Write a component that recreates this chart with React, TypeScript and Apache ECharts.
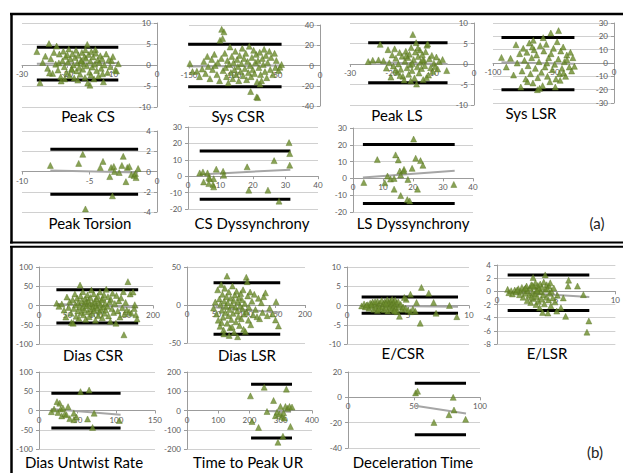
import React, { useEffect, useRef } from "react";
import * as echarts from "echarts";

// ---------- DATA ----------
const titles = [
  "Peak CS", "Sys CSR", "Peak LS", "Sys LSR",
  "Peak Torsion", "CS Dyssynchrony", "LS Dyssynchrony",
  "Dias CSR", "Dias LSR", "E/CSR", "E/LSR",
  "Dias Untwist Rate", "Time to Peak UR", "Deceleration Time",
];

// axis ranges: [min, max, interval]
const xAxes = [
  [-30, 0, 10], [-150, 0, 50], [-30, 0, 10], [-100, 0, 50],
  [-10, 0, 5], [0, 40, 10], [0, 40, 10],
  [0, 200, 50], [0, 200, 50], [0, 10, 5], [0, 10, 5],
  [0, 150, 50], [0, 400, 100], [0, 100, 50],
];
const yAxes = [
  [-10, 10, 5], [-40, 40, 20], [-10, 10, 5], [-30, 30, 10],
  [-4, 4, 2], [-20, 30, 10], [-20, 30, 10],
  [-100, 100, 50], [-50, 50, 50], [-10, 10, 5], [-8, 4, 2],
  [-100, 100, 50], [-200, 200, 100], [-40, 20, 20],
];

// limits of agreement [upper, lower]
const limits = [
  [4.2, -3.6], [21, -21], [5.2, -4.6], [19.2, -20],
  [2.2, -2.25], [15.4, -14], [20.2, -15],
  [40.7, -45.6], [29.3, -38.6], [2.2, -2.0], [2.5, -2.9],
  [45, -45.5], [136, -143], [11.1, -29.6],
];
// x extent of the limit lines
const limitSpans = [
  [-26.7, -8.6], [-151, -44], [-25.6, -6.4], [-93, -32.7],
  [-7.9, -1.4], [3.6, 31.5], [3.3, 33.9],
  [30.5, 174], [45, 158], [1.2, 9.1], [0.9, 7.8],
  [16, 105.5], [205, 336], [50.6, 89.4],
];
// regression trend lines [[x1, y1], [x2, y2]]
const trends = [
  [[-26.7, 0.3], [-8.6, 0.5]], [[-151, -1], [-44, 0]], [[-25.6, 0.4], [-6.4, 0.0]], [[-93, 0.5], [-32.7, -0.5]],
  [[-7.9, 0.1], [-1.4, -0.1]], [[3.6, 1.0], [31.5, 4.0]], [[3.3, 0.5], [33.9, 4.5]],
  [[30.5, 4], [174, -5]], [[45, -3], [158, -10]], [[1.2, -0.05], [9.1, -0.3]], [[0.9, -0.1], [7.8, -0.85]],
  [[16, 4], [105.5, -11]], [[256, -2], [333, -6]], [[51, -6.6], [89.4, -12.7]],
];

const peakCsPoints = [
  [-26.7, 3.2], [-26, -4.2], [-25.4, 0.6], [-24.8, 2.1], [-24, 5.1], [-24.3, -0.8], [-23.6, 1.5], [-23.2, -2.0],
  [-22.9, 3.0], [-22.3, 4.5], [-22.5, 0.2], [-22, -1.2], [-21.7, 2.6], [-21.4, -2.8], [-21.3, -3.8], [-21, 1.0],
  [-20.8, 3.3], [-20.6, -0.4], [-20.3, 2.0], [-20.1, -1.8], [-19.8, 0.7], [-19.6, 3.8], [-19.4, -2.5], [-19.2, 1.4],
  [-19, -0.9], [-18.8, 2.7], [-18.6, 0.0], [-18.4, -3.1], [-18.2, 1.8], [-18, 3.5], [-17.9, -1.4], [-17.7, 0.5],
  [-17.5, 2.3], [-17.3, -0.6], [-17.1, -2.2], [-16.9, 1.1], [-16.7, 3.0], [-16.5, -1.0], [-16.3, 0.3], [-16.1, 2.0],
  [-16, -3.0], [-15.8, 1.6], [-15.6, -0.2], [-15.5, 4.9], [-15.4, -4.3], [-15.2, 2.5], [-15, -1.7], [-14.9, -4.8],
  [-14.8, 0.9], [-14.6, 3.2], [-14.4, -0.5], [-14.2, 1.9], [-14, -3.3], [-13.8, 0.2], [-13.6, 2.8], [-13.4, -1.3],
  [-13.2, 1.2], [-13, -2.6], [-12.8, 0.6], [-12.6, 2.2], [-12.4, -0.8], [-12.2, 1.5], [-11.9, -4.0], [-11.7, 0.0],
  [-11.3, 2.6], [-11, -1.8], [-10.7, 1.3], [-10.4, -0.4], [-10.1, 1.0], [-9.8, 2.0], [-9.3, -1.2], [-9, -1.4],
  [-8.6, 0.3], [-23.9, -1.9], [-20.5, -3.3], [-17.6, -3.6], [-13.7, 3.7], [-12.1, -2.1], [-19.9, 2.4], [-18.9, -1.1],
  [-16.8, 0.9], [-14.7, -2.4], [-21.8, 0.5], [-15.9, 3.6],
];
const sysCsrPoints = [
  [-149, 2], [-146, -6], [-141, -5.7], [-138, -11], [-135, -3.5], [-133, 4], [-131, -8], [-129, 9], [-128, -1],
  [-126, -13], [-124, 6], [-123, -4], [-121, 11], [-120, 0], [-118, -9], [-117, 3], [-115, -15], [-114.5, 25],
  [-113, 7], [-112.6, 35.7], [-111.5, 26.7], [-111, -5], [-110, 33.3], [-109, 12], [-108, -2], [-107, -11],
  [-106, 5], [-105, -17], [-104, 1], [-103, 18.3], [-102, -7], [-101, 9], [-100, -13], [-99, 3], [-98, -4],
  [-97, 14], [-96, -9], [-95, 6], [-94, -1], [-93, -15], [-92, 10], [-91, -6], [-90, 2], [-89, 17], [-88, -10],
  [-87, 7], [-86, -3], [-85, 12], [-84, -14], [-83, 4], [-82, -7], [-81, 19], [-80, 0], [-79.4, -25.7], [-79, -11],
  [-78, 8], [-77, -4], [-76, 15], [-75, -8], [-74, 3], [-73, 11], [-72.5, -31], [-72, -16], [-71.3, -31.7],
  [-71, 5], [-70, -2], [-69, 13], [-68.7, -18.3], [-68, -9], [-67, -15], [-66, 7], [-65, 1], [-64, 16], [-63, -6],
  [-62, 10], [-61, -12], [-60, 3], [-58, 14], [-57, -4], [-56, 8], [-54, -9], [-52, 12], [-51, -2], [-50, 5],
  [-47.5, -5], [-45.8, -1.7], [-44, 1],
];
const peakLsPoints = [
  [-25.6, 0.6], [-24.5, 0.9], [-23.1, 1.0], [-22.7, 4.8], [-21.9, 0.8], [-21.2, -1.0], [-20.8, 3.5], [-20.5, 0.3],
  [-20.1, -3.2], [-19.8, 2.2], [-19.5, -0.5], [-19.2, 3.7], [-18.9, 1.4], [-18.6, -2.0], [-18.3, 0.0], [-18.0, 2.8],
  [-17.7, -1.3], [-17.4, 1.9], [-17.2, -3.0], [-16.9, -3.9], [-16.7, 0.7], [-16.5, 3.1], [-16.2, -0.9], [-16.0, 1.6],
  [-15.8, -2.5], [-15.6, 2.4], [-15.4, -0.2], [-15.2, 4.0], [-15.0, -1.6], [-14.8, 7.2], [-14.6, 1.1], [-14.4, -3.4],
  [-14.2, 2.9], [-14.0, 5.2], [-13.9, -4.9], [-13.7, -0.7], [-13.5, 1.8], [-13.3, -2.2], [-13.1, 3.4], [-12.9, 0.4],
  [-12.7, -1.1], [-12.5, 2.3], [-12.3, -3.8], [-12.1, 0.9], [-11.9, -0.4], [-11.7, 3.0], [-11.4, 4.6], [-11.2, 4.9],
  [-11.0, -2.7], [-10.8, 1.3], [-10.5, -0.9], [-10.2, 2.1], [-10.0, -1.8], [-9.7, 0.2], [-9.4, -0.6], [-9.1, 1.7],
  [-8.8, -1.2], [-8.4, 0.6], [-7.6, 1.1], [-6.6, -1.6], [-17.9, -2.8], [-15.3, -4.1], [-13.6, 3.9], [-12.4, 1.0],
  [-19.0, -1.5], [-16.4, 2.0], [-14.9, 0.1], [-11.5, -3.3],
];
const sysLsrPoints = [
  [-93, 4.2], [-89, -3], [-85.5, 3.5], [-83, -9], [-81, 13.7], [-80, 0], [-78, 7], [-77, -18], [-76, -6], [-75, 11],
  [-74, 2], [-73, -12], [-72, 8], [-71, -2], [-70, 15], [-69, -8], [-68, 4], [-67, -15], [-66.7, 17], [-66, 10],
  [-65, -4], [-64, 6], [-63.3, -20], [-63, -11], [-62, 1], [-61, 13], [-60, -7], [-59, -17], [-58, 9], [-57, -3],
  [-56, 14], [-55, -10], [-54, 4], [-53, -14], [-52.2, 22.5], [-52, 7], [-51, -5], [-50, 11], [-49, -1], [-48, -12],
  [-47, 16], [-46, 3], [-45.8, 24.3], [-45, -8], [-44, 9], [-43, -4], [-42, 12], [-41.7, -7.5], [-41, 1], [-40, -10],
  [-39, 6], [-38.9, 2.5], [-37, -3], [-36, 8], [-35, -6], [-34, 4], [-32.7, -2.5], [-61.5, -19], [-58.5, 19],
  [-48.5, -18], [-71.5, -14], [-55.5, 0], [-44.5, -13], [-67.5, 12],
];
const peakTorsionPoints = [
  [-7.9, 0.6], [-5.8, 0.8], [-5.5, 1.7], [-5.3, -3.7], [-4.2, 0.4], [-4.0, 1.0], [-3.5, -0.5], [-3.4, 0.4],
  [-3.2, 0.5], [-3.15, 0.0], [-3.3, -2.4], [-2.8, -0.1], [-2.6, 0.6], [-2.5, 1.5], [-2.3, -1.0], [-2.2, 0.4],
  [-2.05, 0.5], [-1.9, -0.3], [-1.7, -0.4], [-1.6, -0.2], [-1.55, -0.6], [-1.4, 0.3],
];
const csDysPoints = [
  [3.6, 2.0], [4.6, 2.6], [6.0, 2.0], [4.8, -3.5], [6.4, -0.8], [6.7, -1.5], [6.4, -4.5], [7.7, -5.1], [7.9, -1.5],
  [7.9, -6.5], [8.7, 4.3], [10.8, 3.0], [11.0, 0.6], [18.2, 5.7], [18.7, -8.5], [24.6, -8.5], [26.5, 9.5],
  [28.0, -15.2], [31.1, 20.5], [31.3, 13.8], [31.3, 6.7],
];
const lsDysPoints = [
  [3.6, -2.4], [8.1, 11.2], [10.6, -2.6], [11.5, 1.4], [12.5, -0.4], [13.7, 0.0], [13.7, -6.4], [14.2, 14.0],
  [15.1, 11.0], [15.6, 4.4], [15.9, 2.0], [15.9, -10.2], [16.9, 4.4], [17.0, 5.4], [18.3, -0.6], [18.1, -12.6],
  [18.9, -13.4], [19.7, 6.0], [20.2, 23.4], [20.9, 12.0], [21.5, -6.4], [22.5, 10.6], [23.3, 7.8], [33.6, -3.6],
];
const diasCsrPoints = [
  [31, 6], [35, -2], [40, 4], [44, -12], [47, -30], [49, 22], [52, -5], [54, 10], [56, -20], [57, -44], [59, 15],
  [60, -46], [61, -8], [63, 30], [64, 2], [65, -28], [67, 19], [68, -14], [69, 7], [70, -33], [71, -3], [72, 53],
  [73, 25], [74, -18], [75, 12], [76, -6], [77, 36], [78, -24], [79, 4], [80, -11], [81, 18], [82, -36], [83, 9],
  [84, -1], [85, 27], [86, -16], [87, 13], [88, -29], [89, 3], [90, 21], [91, -9], [92, 40], [93, -21], [94, 6],
  [95, -4], [96, 30], [97, -13], [98, 11], [99, -38], [100, 0], [101, 17], [102, -7], [103, 24], [104, -26],
  [105, 8], [106, -15], [107, 35], [108, 2], [109, -10], [110, 14], [111, -32], [112, 19], [113, -4], [114, 28],
  [115, -20], [116, 6], [117, -12], [118, 42], [120, -2], [121, 23], [122, -27], [124, 10], [125, -41], [126, 16],
  [128, -8], [129, 32], [131, -18], [133, 5], [135, -46], [136, 26], [138, -14], [140, 12], [142, -30], [144, 20],
  [146, -6], [148, 36], [149, -76], [150, -22], [152, 8], [154, -12], [156, 62], [158, -16], [160, 30], [162, -20],
  [165, 35], [167, -8], [170, -24], [172, -35], [168, 2],
];
const diasLsrPoints = [
  [45, -4], [48, 4], [50, -12], [52, 20], [53, -20], [55, 8], [56, -28], [57, 1], [58, 27], [59, -7], [60, 14],
  [61, -16], [62, -33], [63, 5], [64, 22], [65, -10], [66, -2], [67, 11], [67.8, 38], [68, -24], [69, 3], [70, -14],
  [71, 17], [72, -6], [73, -30], [74, 9], [75, -19], [76, 0], [77, 25], [78, -11], [79, 6], [80, -36], [81, 13],
  [82, -3], [83, -22], [84, 18], [85, -8], [85.8, -41.7], [86, 4], [87, -15], [88, 10], [89, -27], [90, -1],
  [91, 15], [92, -18], [93, 7], [94, -5], [95, 20], [96, -32], [97, -12], [98, 2], [99, -35], [100.5, 36.4],
  [101, -9], [102, 30.7], [103, 12], [104, -20], [105, -3], [107, 17], [108, -26], [110, 5], [112, -13], [114, 14],
  [116, -6], [118.6, -15.4], [121, 8.8], [123, -18], [126, 3], [128, -10], [130, 11], [133, 16], [136, -14],
  [140, -4], [145, -12], [150, -19.7], [151, 4.3], [155, -27.6], [62.5, -38], [71.5, -40], [58.5, -23], [76.5, -29],
];
const eCsrPoints = [
  [1.2, -0.1], [1.4, 0.4], [1.5, -0.4], [1.7, 0.2], [1.8, -0.7], [1.9, 0.6], [2.0, -0.2], [2.1, 0.9], [2.2, -1.0],
  [2.3, 0.3], [2.4, -0.5], [2.5, 1.1], [2.5, -1.3], [2.6, 0.0], [2.7, 0.7], [2.8, -0.8], [2.85, 1.3], [2.9, -0.3],
  [3.0, 0.5], [3.05, -1.1], [3.1, 1.0], [3.2, -0.6], [3.25, 0.2], [3.3, 1.5], [3.35, -1.4], [3.4, 0.8], [3.5, -0.2],
  [3.55, 1.2], [3.6, -0.9], [3.65, 0.4], [3.7, 1.6], [3.75, -0.5], [3.8, 0.9], [3.85, -1.2], [3.9, 0.1], [3.95, 1.4],
  [4.0, -0.7], [4.05, 0.6], [4.1, -1.6], [4.2, 1.0], [4.25, -0.3], [4.3, -2.8], [4.4, 0.3], [4.5, -1.0], [4.6, -0.4],
  [4.85, 1.6], [5.2, 2.9], [5.2, -1.6], [4.8, -0.7], [5.0, -1.2], [5.7, 0.8], [6.0, -4.6], [6.1, 4.7], [6.7, 3.2],
  [7.1, 0.8], [7.3, -2.0], [8.4, 0.0], [9.0, -2.9], [5.4, -0.9], [5.6, -1.5], [4.7, 2.1], [2.0, 0.3], [2.6, -0.9],
  [3.2, 0.6], [1.6, 0.1], [3.9, -1.4], [2.3, 1.0],
];
const eLsrPoints = [
  [0.9, 0.3], [1.0, -0.2], [1.2, 0.1], [1.3, -0.4], [1.5, 0.2], [1.6, -0.1], [1.8, 0.4], [1.9, -0.5], [2.0, 0.0],
  [2.1, 0.6], [2.2, -0.9], [2.3, 0.3], [2.4, -0.3], [2.5, 0.8], [2.55, -1.4], [2.6, 0.1], [2.7, -0.6], [2.8, 0.5],
  [2.85, -1.7], [2.9, 1.0], [3.0, -0.2], [3.05, 2.1], [3.1, -1.1], [3.15, 0.7], [3.2, -0.4], [3.25, 1.3], [3.3, -2.0],
  [3.35, 0.2], [3.4, -0.8], [3.45, 0.9], [3.5, -1.5], [3.55, 0.4], [3.6, -2.5], [3.65, 1.1], [3.7, -0.1],
  [3.75, -1.2], [3.8, 0.6], [3.85, -3.2], [3.9, -0.5], [3.95, 1.4], [4.0, -1.9], [4.07, 2.5], [4.1, 0.3],
  [4.15, -0.9], [4.2, 1.0], [4.3, -3.3], [4.35, -1.3], [4.4, 0.8], [4.45, -0.3], [4.5, 1.3], [4.55, -2.2], [4.6, 0.0],
  [4.7, -1.0], [4.8, 0.5], [4.9, -1.6], [5.05, -3.0], [5.1, -0.6], [5.4, -2.5], [5.6, -1.0], [5.8, -3.8], [6.0, 0.8],
  [6.05, 1.7], [6.8, 0.8], [7.3, -0.5], [7.6, -6.2], [7.76, -4.5], [3.0, 0.9], [2.4, 0.5], [1.7, 0.2], [4.25, 0.4],
  [3.4, 0.1], [2.9, -0.9],
];
const diasUntwistPoints = [
  [16, -3], [19.5, 3.6], [23.3, 23], [24.6, -5], [26.8, 19], [28.1, 3.6], [29.4, -14], [31.1, 6], [33.3, -9],
  [35.5, -11], [37.6, 10], [39.8, -21], [45, -7], [45, -24], [48.5, -17], [53.7, 49], [62.8, -22], [64.8, 53],
  [69.3, -44], [71.3, -7], [103.8, -26],
];
const timeToPeakUrPoints = [
  [203, 76], [208, -57], [229, -88], [247, 121], [256, -5], [277, 52], [283, -27], [288, -9], [291, -165],
  [299, 21], [304, -31], [307, -134], [311, -39], [315, 21], [318, 111], [322, 12], [328, 21], [331, -83],
  [336, 18], [296, -18], [309, -12],
];
const decelTimePoints = [
  [51.2, 3.5], [52.7, 4.8], [65.1, -19.8], [76.5, -13.7], [79.7, 0], [80.3, -10], [89.1, -17.4],
];

const pointSets = [
  peakCsPoints, sysCsrPoints, peakLsPoints, sysLsrPoints,
  peakTorsionPoints, csDysPoints, lsDysPoints,
  diasCsrPoints, diasLsrPoints, eCsrPoints, eLsrPoints,
  diasUntwistPoints, timeToPeakUrPoints, decelTimePoints,
];

// ---------- LAYOUT (pixel boxes of each plot area and title centres) ----------
const boxes = [
  { l: 22, t: 23, r: 157, b: 107, tx: 88, ty: 116 },
  { l: 189, t: 25, r: 320, b: 106, tx: 238, ty: 116 },
  { l: 350, t: 23, r: 474, b: 105, tx: 397, ty: 115 },
  { l: 493, t: 23, r: 614, b: 103, tx: 531, ty: 113 },
  { l: 22, t: 131, r: 157, b: 212, tx: 90, ty: 223 },
  { l: 188, t: 127, r: 318, b: 209, tx: 252, ty: 223 },
  { l: 353, t: 128, r: 473, b: 212, tx: 413, ty: 223 },
  { l: 39, t: 267, r: 153, b: 344, tx: 93, ty: 355 },
  { l: 187, t: 267, r: 305, b: 343, tx: 247, ty: 355 },
  { l: 347, t: 267, r: 469, b: 344, tx: 403, ty: 353 },
  { l: 497, t: 265, r: 624, b: 344, tx: 547, ty: 353 },
  { l: 39, t: 372, r: 155, b: 449, tx: 84, ty: 461.5 },
  { l: 187, t: 372, r: 312, b: 449, tx: 248, ty: 461.5 },
  { l: 348, t: 372, r: 480, b: 448, tx: 413, ty: 461.5 },
];

const FONT = "Lato, 'Open Sans', sans-serif";
const GREEN = "#6c8c2c";
const GREEN_EDGE = "#55711f";
const AXIS = "#9c9c9c";
const GRID = "#d0d0d0";
const LABEL = "#595959";

function buildOption() {
  const grid: any[] = [];
  const xAxis: any[] = [];
  const yAxis: any[] = [];
  const series: any[] = [];
  const graphic: any[] = [];

  boxes.forEach((b, i) => {
    const w = b.r - b.l;
    const h = b.b - b.t;
    grid.push({ left: b.l, top: b.t, width: w, height: h, containLabel: false });
    const [xmin, xmax, xint] = xAxes[i];
    const [ymin, ymax, yint] = yAxes[i];
    // axes cross at zero (Excel style): place them with offsets
    const zeroY = (ymax / (ymax - ymin)) * h; // from grid top
    const zeroX = ((0 - xmin) / (xmax - xmin)) * w; // from grid left
    xAxis.push({
      gridIndex: i, type: "value", min: xmin, max: xmax, interval: xint, position: "bottom",
      offset: -(h - zeroY),
      axisLine: { show: true, onZero: false, lineStyle: { color: AXIS, width: 1 } },
      axisTick: { show: true, length: 3, lineStyle: { color: AXIS } },
      axisLabel: { fontSize: 8, color: LABEL, fontFamily: FONT, margin: 5, showMinLabel: true, showMaxLabel: true },
      splitLine: { show: false },
    });
    yAxis.push({
      gridIndex: i, type: "value", min: ymin, max: ymax, interval: yint, position: "left",
      offset: -zeroX,
      axisLine: { show: true, onZero: false, lineStyle: { color: AXIS, width: 1 } },
      axisTick: { show: true, length: 3, lineStyle: { color: AXIS } },
      axisLabel: { fontSize: 8, color: LABEL, fontFamily: FONT, margin: 6, showMinLabel: true, showMaxLabel: true },
      splitLine: { show: true, lineStyle: { color: GRID, width: 1 } },
    });
    const [up, lo] = limits[i];
    const [s0, s1] = limitSpans[i];
    const lineBase = {
      type: "line", xAxisIndex: i, yAxisIndex: i, symbol: "none", silent: true, z: 2,
    };
    series.push({ ...lineBase, data: [[s0, up], [s1, up]], lineStyle: { color: "#000", width: 3 } });
    series.push({ ...lineBase, data: [[s0, lo], [s1, lo]], lineStyle: { color: "#000", width: 3 } });
    series.push({ ...lineBase, data: trends[i], lineStyle: { color: "#a6a6a6", width: 2 } });
    series.push({
      type: "scatter", xAxisIndex: i, yAxisIndex: i, data: pointSets[i],
      symbol: "triangle", symbolSize: [6, 6],
      itemStyle: { color: GREEN, borderColor: GREEN_EDGE, borderWidth: 0.5 }, z: 3, silent: true,
    });
    graphic.push({
      type: "text", x: b.tx, y: b.ty, silent: true,
      style: { text: titles[i], fontSize: 15, fontFamily: FONT, fill: "#000", textAlign: "center", textVerticalAlign: "middle" },
    });
  });

  const frame = { stroke: "#000", lineWidth: 2.5 };
  graphic.push(
    { type: "line", shape: { x1: 10, y1: 14, x2: 623, y2: 14 }, style: frame, silent: true },
    { type: "line", shape: { x1: 11.5, y1: 13, x2: 11.5, y2: 243.5 }, style: frame, silent: true },
    { type: "line", shape: { x1: 10, y1: 242.5, x2: 623, y2: 242.5 }, style: { stroke: "#000", lineWidth: 2 }, silent: true },
    { type: "line", shape: { x1: 10, y1: 246.8, x2: 623, y2: 246.8 }, style: { stroke: "#000", lineWidth: 2 }, silent: true },
    { type: "line", shape: { x1: 11.5, y1: 246, x2: 11.5, y2: 473 }, style: frame, silent: true },
    {
      type: "text", x: 597, y: 223, silent: true,
      style: { text: "(a)", fontSize: 15, fontFamily: FONT, fill: "#222", textAlign: "center", textVerticalAlign: "middle" },
    },
    {
      type: "text", x: 595, y: 452, silent: true,
      style: { text: "(b)", fontSize: 15, fontFamily: FONT, fill: "#222", textAlign: "center", textVerticalAlign: "middle" },
    },
  );

  return {
    animation: false,
    backgroundColor: "#ffffff",
    grid, xAxis, yAxis, series, graphic,
  };
}

export default function App() {
  const ref = useRef<HTMLDivElement>(null);
  useEffect(() => {
    if (!ref.current) return;
    const chart = echarts.init(ref.current, undefined, { renderer: "svg" });
    chart.setOption(buildOption() as any);
    return () => chart.dispose();
  }, []);
  return (
    <div
      ref={ref}
      style={{ position: "fixed", left: 0, top: 0, width: 623, height: 473, background: "#fff" }}
    />
  );
}
